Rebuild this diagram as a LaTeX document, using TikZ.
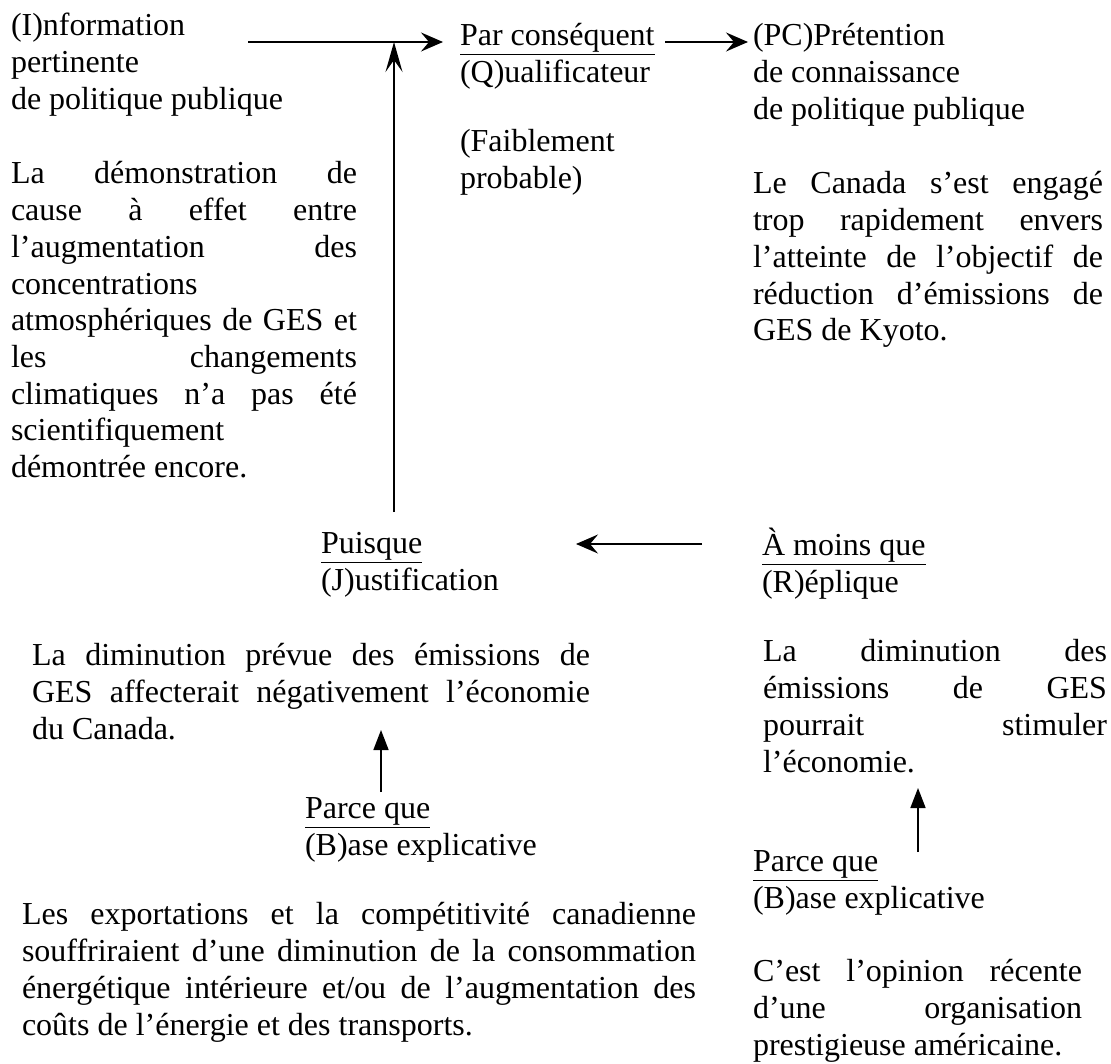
\documentclass[tikz,border=0pt]{standalone}
\usepackage{fontspec}
\setmainfont{Liberation Serif}
\usetikzlibrary{arrows.meta}
\newcommand{\js}[2]{\makebox[#1][s]{#2}}
\begin{document}
\begin{tikzpicture}[x=1pt,y=-1pt,
  txt/.style={anchor=north west, inner sep=0pt, outer sep=0pt, align=left,
    font=\fontsize{32}{36.7}\selectfont},
  link/.style={line width=1.6pt},
  bigtip/.style={link, -{Stealth[length=22pt,width=19pt,inset=8pt]}},
  longtip/.style={link, -{Stealth[length=30pt,width=17pt,inset=12pt]}},
  smalltip/.style={link, -{Triangle[length=20pt,width=15pt]}}
]
\useasboundingbox (0,0) rectangle (1111,1064);

% top row
\node[txt] (info) at (11,10.3) {\strut(I)nformation\\pertinente\\de politique publique};
\node[txt] (qual) at (460,20.3) {\strut\underline{Par conséquent}\\(Q)ualificateur};
\node[txt] (faible) at (460,126.3) {\strut(Faiblement\\probable)};
\node[txt] (pc) at (753,20.3) {\strut(PC)Prétention\\de connaissance\\de politique publique};

\node[txt] (donnee) at (11,158.3) {\strut\js{346pt}{La démonstration de}\\
\js{346pt}{cause à effet entre}\\
\js{346pt}{l’augmentation des}\\
concentrations\\
\js{346pt}{atmosphériques de GES et}\\
\js{346pt}{les changements}\\
\js{346pt}{climatiques n’a pas été}\\
scientifiquement\\
démontrée encore.};

\node[txt] (claim) at (753,168.3) {\strut\js{350pt}{Le Canada s’est engagé}\\
\js{350pt}{trop rapidement envers}\\
\js{350pt}{l’atteinte de l’objectif de}\\
\js{350pt}{réduction d’émissions de}\\
GES de Kyoto.};

% middle row
\node[txt] (puis) at (321,528.3) {\strut\underline{Puisque}\\(J)ustification};
\node[txt] (moins) at (762,528.3) {\strut\underline{À moins que}\\(R)éplique};

\node[txt] (just) at (32,640.3) {\strut\js{558pt}{La diminution prévue des émissions de}\\
\js{558pt}{GES affecterait négativement l’économie}\\
du Canada.};

\node[txt] (rep) at (763,636.3) {\strut\js{344pt}{La diminution des}\\
\js{344pt}{émissions de GES}\\
\js{344pt}{pourrait stimuler}\\
l’économie.};

% lower row
\node[txt] (pq1) at (305,793.3) {\strut\underline{Parce que}\\(B)ase explicative};
\node[txt] (pq2) at (753,846.3) {\strut\underline{Parce que}\\(B)ase explicative};

\node[txt] (base1) at (22,899.3) {\strut\js{674pt}{Les exportations et la compétitivité canadienne}\\
\js{674pt}{souffriraient d’une diminution de la consommation}\\
\js{674pt}{énergétique intérieure et/ou de l’augmentation des}\\
coûts de l’énergie et des transports.};

\node[txt] (base2) at (753,956.3) {\strut\js{329pt}{C’est l’opinion récente}\\
\js{329pt}{d’une organisation}\\
prestigieuse américaine.};

% connector end points
\coordinate (a1s) at (248,42);
\coordinate (junc) at (394,42);
\coordinate (a1e) at (443,42);
\coordinate (a2s) at (665,42);
\coordinate (a2e) at (748,42);
\coordinate (vbot) at (394,512);
\coordinate (lfs) at (702,544);
\coordinate (lfe) at (576,544);
\coordinate (u1s) at (381,792);
\coordinate (u1e) at (381,730);
\coordinate (u2s) at (918,852);
\coordinate (u2e) at (918,788);

\draw[bigtip] (a1s) -- (a1e);
\draw[longtip] (vbot) -- (junc);
\draw[bigtip] (a2s) -- (a2e);
\draw[bigtip] (lfs) -- (lfe);
\draw[smalltip] (u1s) -- (u1e);
\draw[smalltip] (u2s) -- (u2e);
\end{tikzpicture}
\end{document}
